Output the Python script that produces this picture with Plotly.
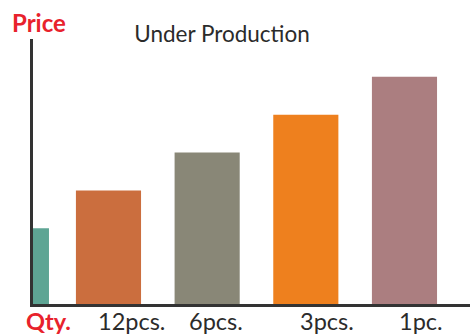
import plotly.graph_objects as go

# data
bar_pos = [0.316, 1, 2, 3, 4]
bar_width = [0.162, 0.66, 0.66, 0.66, 0.66]
prices = [2, 3, 4, 5, 6]
bar_colors = ['#5EA594', '#CB6E3E', '#898777', '#EE801E', '#AB7E80']

label_pos = [0.392, 1.233, 2.085, 3.21, 4.167]
qty_labels = ['<b>Qty.</b>', '12pcs.', '6pcs.', '3pcs.', '1pc.']
label_colors = ['#E8222C', '#2B2B2B', '#2B2B2B', '#2B2B2B', '#2B2B2B']

fig = go.Figure()
fig.add_trace(go.Bar(
    x=bar_pos,
    y=prices,
    width=bar_width,
    marker=dict(color=bar_colors, line=dict(width=0)),
    hoverinfo='skip',
    showlegend=False,
))

# quantity labels under the axis (annotations so they can sit close to the line)
annots = []
for xp, txt, col in zip(label_pos, qty_labels, label_colors):
    annots.append(dict(
        text=txt, xref='x', yref='paper',
        x=xp, y=-17 / 265,
        xanchor='center', yanchor='middle',
        showarrow=False,
        font=dict(size=23.5, family='Lato', color=col),
    ))

annots.append(dict(
    text='<b>Price</b>',
    xref='paper', yref='paper',
    x=(38.7 - 33) / 437, y=(304 - 22) / 265,
    xanchor='center', yanchor='middle',
    showarrow=False,
    font=dict(size=24, family='Lato', color='#E8222C'),
))

fig.update_layout(
    width=470, height=335,
    margin=dict(l=33, r=0, t=39, b=31, autoexpand=False),
    paper_bgcolor='white',
    plot_bgcolor='white',
    font=dict(family='Lato', color='#2B2B2B'),
    title=dict(
        text='Under Production',
        font=dict(size=22.5, family='Lato', color='#2B2B2B'),
        xref='container', x=222/470, xanchor='center',
        yref='container', y=1 - 34/335, yanchor='middle',
        automargin=False,
    ),
    xaxis=dict(
        range=[0.235, 4.664],
        automargin=False,
        showgrid=False, zeroline=False,
        showline=True, linewidth=3, linecolor='#333333',
        showticklabels=False, ticks='',
    ),
    yaxis=dict(
        range=[0, 7.0],
        automargin=False,
        showgrid=False, zeroline=False,
        showline=True, linewidth=3, linecolor='#333333',
        showticklabels=False, ticks='',
    ),
    annotations=annots,
)

# page margin off so the 470x335 figure sits at the window corner
fig.write_html("out.html", config={'displayModeBar': False},
               post_script="document.body.style.margin='0';")
